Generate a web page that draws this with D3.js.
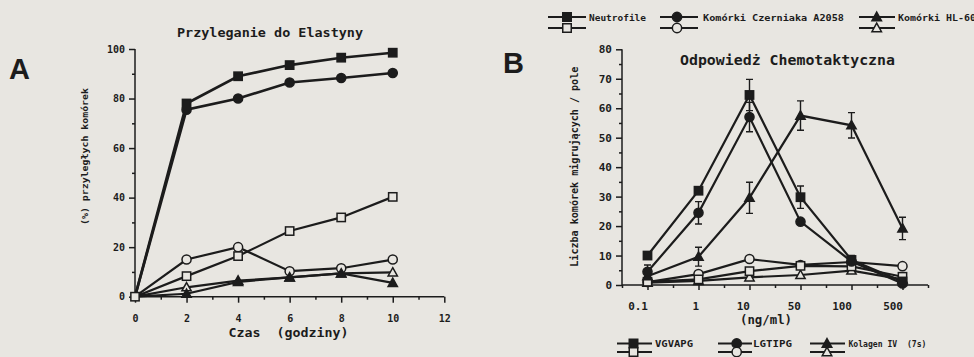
<!DOCTYPE html>
<html><head><meta charset="utf-8">
<script src="https://cdn.jsdelivr.net/npm/d3@7"></script>
<style>
html,body{margin:0;padding:0;background:#e8e6e1;}
svg{display:block;}
text{font-family:"DejaVu Sans Mono",monospace;font-weight:bold;fill:#1c1c1c;}
</style></head><body>
<svg id="c" width="974" height="357"></svg>
<script>
// ---------- DATA ----------
const hoursA = [0, 2, 4, 6, 8, 10];
const neutroFilledA = [0, 78, 89, 93.5, 96.5, 98.5];
const czernFilledA  = [0, 75.5, 80, 86.5, 88.3, 90.3];
const hl60FilledA   = [0, 1.2, 6, 7.8, 9.4, 5.6];
const neutroOpenA   = [0, 8.3, 16.4, 26.5, 32, 40.3];
const czernOpenA    = [0, 15, 20, 10.3, 11.5, 15];
const hl60OpenA     = [0, 3.8, 6.5, 7.8, 9.4, 9.8];
const xTicksA = [0, 2, 4, 6, 8, 10, 12];
const yTicksA = [0, 20, 40, 60, 80, 100];

const concB = ["0.1", "1", "10", "50", "100", "500"];
const vgvapgFilledB = [10, 32, 64.5, 29.8, 8.5, 1.2];
const vgvapgErrB    = [0, 0, 5.3, 3.8, 1.5, 0];
const lgtipgFilledB = [4.5, 24.5, 57, 21.5, 8, 0.5];
const lgtipgErrB    = [2.3, 3.8, 5, 1, 1.5, 0];
const kolFilledB    = [3, 9.6, 29.6, 57.5, 54.2, 19.2];
const kolErrB       = [1, 3.2, 5.3, 5, 4.3, 3.8];
const vgvapgOpenB   = [1.1, 1.9, 4.7, 6.5, 6.3, 2.8];
const lgtipgOpenB   = [1, 3.7, 8.8, 6.8, 7.8, 6.4];
const kolOpenB      = [0.8, 1.4, 2.6, 3.4, 4.9, 1.9];
const yTicksB = [0, 10, 20, 30, 40, 50, 60, 70, 80];

const legendTop = ["Neutrofile", "Komórki Czerniaka A2058", "Komórki HL-60"];
const legendBottom = ["VGVAPG", "LGTIPG", "Kolagen IV  (7s)"];

// ---------- DRAWING ----------
const ink = "#1c1c1c", bg = "#e8e6e1";
const svg = d3.select("#c");

function marker(g, shape, filled, x, y, s) {
  const fill = filled ? ink : bg;
  if (shape === "square") {
    g.append("rect").attr("x", x - s/2).attr("y", y - s/2).attr("width", s).attr("height", s)
      .attr("fill", fill).attr("stroke", ink).attr("stroke-width", 1.5);
  } else if (shape === "circle") {
    g.append("circle").attr("cx", x).attr("cy", y).attr("r", s/2 + 0.4)
      .attr("fill", fill).attr("stroke", ink).attr("stroke-width", 1.5);
  } else {
    const h = s * 0.95;
    g.append("path").attr("d", `M${x},${y - h*0.6}L${x + s/2 + 0.5},${y + h*0.45}L${x - s/2 - 0.5},${y + h*0.45}Z`)
      .attr("fill", fill).attr("stroke", ink).attr("stroke-width", 1.5);
  }
}

// ===== Panel A =====
const xA = d3.scaleLinear().domain([0, 12]).range([135, 444.3]);
const yA = d3.scaleLinear().domain([0, 100]).range([296.7, 49]);
const gA = svg.append("g");

const yAxA = gA.append("g").attr("transform", `translate(${xA(0)},0)`)
  .call(d3.axisLeft(yA).tickValues(yTicksA).tickSize(6).tickPadding(4).tickFormat(d3.format("d")));
const yAxAm = gA.append("g").attr("transform", `translate(${xA(0)},0)`)
  .call(d3.axisLeft(yA).tickValues(d3.range(10, 100, 20)).tickSize(3).tickFormat(""));
const xAxA = gA.append("g").attr("transform", `translate(0,${yA(0)})`)
  .call(d3.axisBottom(xA).tickValues(xTicksA).tickSize(6).tickPadding(12).tickFormat(d3.format("d")));
const xAxAm = gA.append("g").attr("transform", `translate(0,${yA(0)})`)
  .call(d3.axisBottom(xA).tickValues(d3.range(1, 12, 2)).tickSize(3).tickFormat(""));
[yAxA, yAxAm, xAxA, xAxAm].forEach(a => {
  a.select(".domain").attr("stroke", ink).attr("stroke-width", 1.5);
  a.selectAll(".tick line").attr("stroke", ink).attr("stroke-width", 1.5);
  a.selectAll(".tick text").attr("font-size", 10).attr("font-family", "DejaVu Sans Mono").attr("font-weight", "bold").attr("fill", ink);
});
yAxA.select(".domain").attr("d", `M0,${yA(100)}V${yA(0)}`);
yAxAm.select(".domain").remove();
xAxA.select(".domain").attr("d", `M${xA(0)},0H${xA(12)}`);
xAxAm.select(".domain").remove();

const lineA = d3.line().x((d, i) => xA(hoursA[i])).y(d => yA(d));
const seriesA = [
  {v: neutroFilledA, shape: "square", filled: true},
  {v: czernFilledA, shape: "circle", filled: true},
  {v: hl60FilledA, shape: "triangle", filled: true},
  {v: neutroOpenA, shape: "square", filled: false},
  {v: czernOpenA, shape: "circle", filled: false},
  {v: hl60OpenA, shape: "triangle", filled: false}
];
seriesA.forEach(s => {
  gA.append("path").attr("d", lineA(s.v)).attr("fill", "none").attr("stroke", ink)
    .attr("stroke-width", s.filled && s.shape !== "triangle" ? 2.6 : 2.2);
});
seriesA.slice().reverse().forEach(s => {
  s.v.forEach((d, i) => { if (i > 0) marker(gA, s.shape, s.filled, xA(hoursA[i]), yA(d), 8.3); });
});
marker(gA, "square", false, xA(0), yA(0), 8.3);

gA.append("text").attr("x", 270).attr("y", 37).attr("text-anchor", "middle").attr("font-size", 13)
  .attr("textLength", 186).attr("lengthAdjust", "spacingAndGlyphs").text("Przyleganie do Elastyny");
gA.append("text").attr("x", 288.5).attr("y", 337).attr("text-anchor", "middle").attr("font-size", 13)
  .attr("textLength", 120).attr("lengthAdjust", "spacingAndGlyphs").attr("xml:space", "preserve").text("Czas  (godziny)");
gA.append("text").attr("transform", "translate(88,156.5) rotate(-90)").attr("text-anchor", "middle")
  .attr("font-size", 9.5).attr("textLength", 137).attr("lengthAdjust", "spacingAndGlyphs").text("(%) przyległych komórek");
gA.append("text").attr("x", 9).attr("y", 79).attr("font-weight", "bold").attr("font-size", 29)
  .style("font-family", "'Liberation Sans', Arial, sans-serif").text("A");

// ===== Panel B =====
const xB = d3.scaleLinear().domain([-0.5, 5.5]).range([622, 928]);
const yB = d3.scaleLinear().domain([0, 80]).range([285, 49.3]);
const gB = svg.append("g");

const yAxB = gB.append("g").attr("transform", `translate(${xB(-0.5)},0)`)
  .call(d3.axisLeft(yB).tickValues(yTicksB).tickSize(6).tickPadding(4).tickFormat(d3.format("d")));
const yAxBm = gB.append("g").attr("transform", `translate(${xB(-0.5)},0)`)
  .call(d3.axisLeft(yB).tickValues(d3.range(5, 80, 10)).tickSize(3).tickFormat(""));
const xAxB = gB.append("g").attr("transform", `translate(0,${yB(0)})`)
  .call(d3.axisBottom(xB).tickValues(d3.range(0, 6)).tickSize(5).tickPadding(12).tickFormat(i => concB[i]));
const xAxBm = gB.append("g").attr("transform", `translate(0,${yB(0)})`)
  .call(d3.axisBottom(xB).tickValues(d3.range(-0.5, 6, 1)).tickSize(3).tickFormat(""));
[yAxB, yAxBm, xAxB, xAxBm].forEach(a => {
  a.select(".domain").attr("stroke", ink).attr("stroke-width", 1.5);
  a.selectAll(".tick line").attr("stroke", ink).attr("stroke-width", 1.5);
  a.selectAll(".tick text").attr("font-size", 11).attr("font-family", "DejaVu Sans Mono").attr("font-weight", "bold").attr("fill", ink);
});
xAxB.selectAll(".tick text").attr("text-anchor", "end").attr("x", 0);
yAxB.select(".domain").attr("d", `M0,${yB(80)}V${yB(0)}`);
yAxBm.select(".domain").remove();
xAxB.select(".domain").attr("d", `M${xB(-0.5)},0H${xB(5.5)}`);
xAxBm.select(".domain").remove();

const lineB = d3.line().x((d, i) => xB(i)).y(d => yB(d));
const seriesB = [
  {v: vgvapgFilledB, e: vgvapgErrB, shape: "square", filled: true},
  {v: lgtipgFilledB, e: lgtipgErrB, shape: "circle", filled: true},
  {v: kolFilledB, e: kolErrB, shape: "triangle", filled: true},
  {v: vgvapgOpenB, shape: "square", filled: false},
  {v: lgtipgOpenB, shape: "circle", filled: false},
  {v: kolOpenB, shape: "triangle", filled: false}
];
seriesB.forEach(s => {
  gB.append("path").attr("d", lineB(s.v)).attr("fill", "none").attr("stroke", ink).attr("stroke-width", 2.2);
  if (s.e) s.v.forEach((d, i) => {
    if (!s.e[i]) return;
    const x = xB(i), y1 = yB(d + s.e[i]), y2 = yB(d - s.e[i]);
    gB.append("path").attr("d", `M${x},${y1}V${y2}M${x-3.5},${y1}H${x+3.5}M${x-3.5},${y2}H${x+3.5}`)
      .attr("stroke", ink).attr("stroke-width", 1.4).attr("fill", "none");
  });
});
seriesB.slice().reverse().forEach(s => {
  s.v.forEach((d, i) => marker(gB, s.shape, s.filled, xB(i), yB(d), 8.3));
});

gB.append("text").attr("x", 787.5).attr("y", 65).attr("text-anchor", "middle").attr("font-size", 14.5)
  .attr("textLength", 215).attr("lengthAdjust", "spacingAndGlyphs").text("Odpowiedż Chemotaktyczna");
gB.append("text").attr("x", 766).attr("y", 324).attr("text-anchor", "middle").attr("font-size", 12)
  .attr("textLength", 52).attr("lengthAdjust", "spacingAndGlyphs").text("(ng/ml)");
gB.append("text").attr("transform", "translate(578,166.7) rotate(-90)").attr("text-anchor", "middle")
  .attr("font-size", 10).attr("textLength", 200).attr("lengthAdjust", "spacingAndGlyphs").text("Liczba komórek migrujących / pole");
gB.append("text").attr("x", 503).attr("y", 73).attr("font-weight", "bold").attr("font-size", 29)
  .style("font-family", "'Liberation Sans', Arial, sans-serif").text("B");

// legends
function legend(items, shapes, lineX0, lineX1, symX, textX, textW, y1, y2, fs) {
  items.forEach((t, i) => {
    const g = svg.append("g");
    [[y1, true], [y2, false]].forEach(([y, f]) => {
      g.append("line").attr("x1", lineX0[i]).attr("x2", lineX1[i]).attr("y1", y).attr("y2", y)
        .attr("stroke", ink).attr("stroke-width", 2.2);
      marker(g, shapes[i], f, symX[i], y, 8.5);
    });
    g.append("text").attr("x", textX[i]).attr("y", y1 + 3.5).attr("font-size", fs)
      .attr("textLength", textW[i]).attr("lengthAdjust", "spacingAndGlyphs").attr("xml:space", "preserve").text(t);
  });
}
const shapes3 = ["square", "circle", "triangle"];
legend(legendTop, shapes3, [548, 660, 859], [586, 698, 895], [567, 677, 876.7], [589, 703, 898],
  [57, 141, 78], 17, 28, 9.5);
legend(legendBottom, shapes3, [617, 718, 810], [652, 752, 845], [633.5, 736.7, 827], [655, 753, 848.5],
  [38, 39, 78], 343.5, 352, 9);
</script>
</body></html>
